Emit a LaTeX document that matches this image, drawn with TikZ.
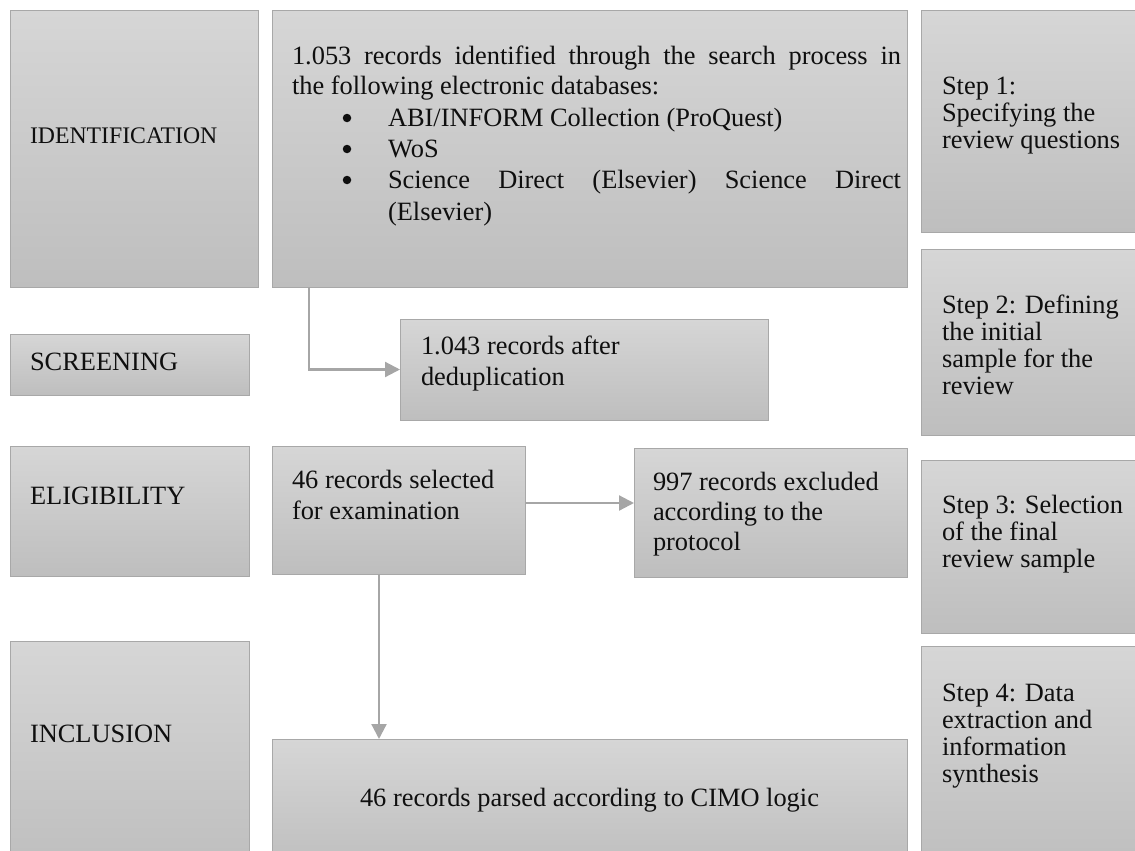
\documentclass[tikz,border=0pt]{standalone}
\usepackage{fontspec}
\setmainfont{Liberation Serif}
\usetikzlibrary{arrows.meta,calc}
\definecolor{boxtop}{RGB}{214,214,214}
\definecolor{boxbot}{RGB}{190,190,190}
\definecolor{boxline}{RGB}{168,168,168}
\definecolor{arrowgray}{RGB}{166,166,166}
\definecolor{txtcol}{RGB}{15,15,15}
\tikzset{
  gbox/.style={draw=boxline, line width=1pt, top color=boxtop, bottom color=boxbot,
    inner sep=0pt, outer sep=0pt, anchor=north west},
  lbl/.style={inner sep=0pt, outer sep=0pt, anchor=base west, text=txtcol,
    font=\fontsize{26.4}{30}\selectfont},
  lblc/.style={lbl, anchor=base},
  bul/.style={circle, fill=txtcol, draw=none, inner sep=0pt, minimum size=8.5pt},
  arr/.style={draw=arrowgray, line width=2.2pt, -{Triangle[length=15pt,width=15pt]}}
}
\newcommand\gboxat[6]{\node[gbox, minimum width=#4pt, minimum height=#5pt] (#1) at (#2,#3) {#6};}
\newcommand\txtline[4]{\node[lbl] (#1) at (#2,#3) {#4};}
\begin{document}
\begin{tikzpicture}[x=1pt,y=-1pt]
\useasboundingbox (0,0) rectangle (1135,851);
\clip (0,0) rectangle (1135,851);
% boxes
\gboxat{ident}{10}{11}{248}{276}{}
\gboxat{main}{272}{11}{635}{276}{}
\gboxat{step1}{921}{11}{230}{221}{}
\gboxat{screen}{10}{334}{239}{61}{}
\gboxat{dedup}{400}{319}{368}{101}{}
\gboxat{step2}{921}{249}{230}{186}{}
\gboxat{elig}{10}{446}{239}{130}{}
\gboxat{sel}{272}{446}{253}{128}{}
\gboxat{excl}{634}{448}{273}{129}{}
\gboxat{step3}{921}{460}{230}{173}{}
\gboxat{incl}{10}{641}{239}{230}{}
\gboxat{final}{272}{739}{635}{130}{}
\gboxat{step4}{921}{646}{230}{225}{}
% left labels
\node[lbl, font=\fontsize{23.75}{28}\selectfont] (identt) at (30,143) {IDENTIFICATION};
\txtline{screent}{30}{370}{SCREENING}
\txtline{eligt}{30}{504}{ELIGIBILITY}
\txtline{inclt}{30}{742}{INCLUSION}
% main box text
\txtline{m1}{292}{64}{\makebox[609pt][s]{1.053 records identified through the search process in}}
\txtline{m2}{292}{95}{the following electronic databases:}
\node[bul] (b1) at (347,118) {};
\txtline{m3}{388}{126}{ABI/INFORM Collection (ProQuest)}
\node[bul] (b2) at (347,149) {};
\txtline{m4}{388}{157}{WoS}
\node[bul] (b3) at (347,180) {};
\txtline{m5}{388}{188}{\makebox[513pt][s]{Science Direct (Elsevier) Science Direct}}
\txtline{m6}{388}{220}{(Elsevier)}
% dedup
\txtline{d1}{421}{354}{1.043 records after}
\txtline{d2}{421}{385}{deduplication}
% selected
\txtline{s1}{292}{488}{46 records selected}
\txtline{s2}{292}{519}{for examination}
% excluded
\txtline{e1}{653}{490}{997 records excluded}
\txtline{e2}{653}{520}{according to the}
\txtline{e3}{653}{550}{protocol}
% final
\node[lblc] (f1) at (589.5,806) {46 records parsed according to CIMO logic};
% steps
\txtline{p11}{942}{94}{Step 1:}
\txtline{p12}{942}{121}{Specifying the}
\txtline{p13}{942}{148}{review questions}
\txtline{p21}{942}{313}{Step 2: Defining}
\txtline{p22}{942}{340}{the initial}
\txtline{p23}{942}{367}{sample for the}
\txtline{p24}{942}{394}{review}
\txtline{p31}{942}{513}{Step 3: Selection}
\txtline{p32}{942}{540}{of the final}
\txtline{p33}{942}{567}{review sample}
\txtline{p41}{942}{701}{Step 4: Data}
\txtline{p42}{942}{728}{extraction and}
\txtline{p43}{942}{755}{information}
\txtline{p44}{942}{782}{synthesis}
% connectors
\draw[arr] ([xshift=37pt]main.south west) |- (dedup.west);
\draw[arr] ([yshift=7pt]sel.east) -- ([yshift=7pt]sel.east -| excl.west);
\draw[arr] ([xshift=107pt]sel.south west) -- ([xshift=107pt]sel.south west |- final.north);
\end{tikzpicture}
\end{document}
